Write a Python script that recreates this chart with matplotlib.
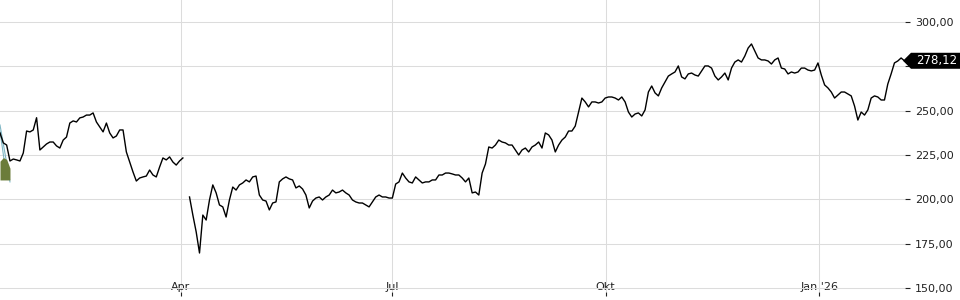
import numpy as np
import pandas as pd
import matplotlib
matplotlib.use("Agg")
import matplotlib.pyplot as plt
from matplotlib.patches import Polygon
from matplotlib.ticker import FuncFormatter

# closing prices, evenly spaced in time (nan = gap in the feed)
price = [
    237.4, 231.8, 230.6, 221.6, 222.7, 222.2, 221.6, 226.1, 238.5, 238.0,
    239.1, 246.0, 227.8, 229.5, 231.2, 232.3, 232.3, 230.1, 228.9, 233.4,
    235.1, 243.0, 244.2, 243.6, 245.9, 246.4, 247.5, 247.5, 248.7, 243.6,
    240.8, 238.0, 243.0, 237.4, 234.6, 235.7, 239.1, 239.1, 226.7, 221.0,
    215.4, 210.3, 212.0, 212.6, 213.1, 216.5, 213.7, 212.6, 218.2, 223.3,
    222.2, 223.9, 221.0, 219.3, 221.6, 223.3, np.nan, 201.3, 191.1, 181.6,
    169.7, 191.1, 188.3, 199.6, 208.1, 203.6, 196.8, 195.7, 190.0, 199.6,
    206.9, 205.2, 208.1, 209.2, 210.9, 209.8, 212.6, 213.1, 202.4, 199.6,
    199.0, 194.0, 197.9, 198.5, 209.8, 211.5, 212.6, 211.5, 210.9, 206.4,
    207.5, 205.8, 202.4, 195.1, 199.0, 200.7, 201.3, 199.6, 201.3, 202.4,
    205.2, 203.6, 204.1, 205.2, 203.6, 202.4, 199.6, 198.5, 197.9, 197.9,
    196.8, 195.7, 198.5, 201.3, 202.4, 201.3, 201.3, 200.7, 200.7, 208.6,
    209.8, 214.8, 212.0, 209.8, 209.2, 212.6, 210.9, 209.2, 209.8, 209.8,
    210.9, 210.9, 213.7, 213.7, 214.8, 214.8, 214.3, 213.7, 213.7, 212.0,
    209.8, 212.0, 203.6, 204.1, 202.4, 214.8, 219.9, 229.5, 228.9, 230.6,
    233.4, 232.3, 231.8, 230.6, 230.6, 227.8, 225.0, 227.8, 228.9, 226.7,
    229.5, 230.6, 232.3, 228.9, 237.4, 236.3, 233.4, 226.7, 230.6, 233.4,
    235.1, 238.5, 238.5, 241.3, 249.2, 257.1, 254.9, 252.1, 254.9, 254.9,
    254.3, 254.9, 257.1, 257.7, 257.7, 257.1, 256.0, 257.7, 254.9, 249.2,
    246.4, 248.1, 248.7, 247.0, 250.4, 260.5, 263.9, 260.0, 258.3, 262.8,
    266.2, 269.5, 270.7, 271.8, 275.2, 269.0, 267.9, 270.7, 271.2, 270.1,
    269.5, 272.4, 275.2, 275.2, 274.0, 269.5, 267.3, 269.0, 271.2, 267.3,
    274.0, 277.4, 278.6, 277.4, 280.8, 285.3, 287.6, 283.6, 279.7, 278.6,
    278.6, 278.0, 276.3, 278.6, 279.7, 274.0, 273.5, 270.7, 271.8, 271.2,
    271.8, 274.0, 274.0, 272.9, 272.4, 272.9, 276.9, 270.1, 264.5, 262.8,
    260.5, 257.1, 258.8, 260.5, 260.5, 259.4, 258.3, 252.6, 244.7, 249.2,
    247.5, 250.4, 257.1, 258.3, 257.7, 256.0, 256.0, 265.0, 270.7, 276.9,
    278.0, 279.7, 278.12,
]
start_date = "2025-01-13"
end_date = "2026-02-06 18:00"

month_ticks = ["2025-04-01", "2025-07-01", "2025-10-01", "2026-01-01"]
month_labels = ["Apr", "Jul", "Okt", "Jan '26"]
price_ticks = [150, 175, 200, 225, 250, 275, 300]
last_price = 278.12

# remnants of another overlay at the very left edge
teal_a = [241.9, 209.8]
teal_b = [238.5, 212.0]
olive_low = [210.9, 210.9, 210.9, 210.9]
olive_high = [221.5, 223.5, 222.5, 217.5]

dates = pd.date_range(start_date, end_date, periods=len(price))

W, H = 960, 300
fig = plt.figure(figsize=(W / 100, H / 100), dpi=100)
ax = fig.add_axes([0, 8 / H, 905 / W, 1 - 8 / H])

grid_c = "#dcdcdc"
txt_c = "#222222"

ax.plot(dates, price, color="black", lw=1.0, zorder=3)
ax.plot(dates[[0, 3]], teal_a, color="#7fb6c4", lw=0.8, zorder=2)
ax.plot(dates[[0, 2]], teal_b, color="#7fb6c4", lw=0.8, zorder=2)
ax.fill_between(dates[:4], olive_low, olive_high, color="#6b7c3a", lw=0, zorder=2)

ax.set_xlim(dates[0], dates[-1] + pd.Timedelta(hours=6))
ax.set_ylim(147.7, 312.4)


def price_fmt(v, pos):
    # the 275 label sits under the price tag in the original
    if abs(v - 275) < 1e-6:
        return ""
    return f"{v:.2f}".replace(".", ",")


ax.set_xticks(pd.to_datetime(month_ticks))
ax.set_xticklabels(month_labels)
ax.set_yticks(price_ticks)
ax.yaxis.set_major_formatter(FuncFormatter(price_fmt))
ax.yaxis.tick_right()

ax.tick_params(axis="x", direction="out", length=3, width=0.8, color=txt_c,
               pad=-10.5, labelsize=8, labelcolor=txt_c)
ax.tick_params(axis="y", direction="out", length=3.5, width=0.8, color=txt_c,
               pad=3.5, labelsize=8, labelcolor=txt_c)

ax.grid(True, color=grid_c, lw=0.75, zorder=0)
ax.set_axisbelow(True)
for s in ax.spines.values():
    s.set_visible(False)

# price tag for the last quote
yc = ax.transData.transform((0, last_price))[1]
tip_x, notch_x, half = 903, 911, 8
tag = Polygon([(tip_x / W, yc / H), (notch_x / W, (yc + half) / H), (1.0, (yc + half) / H),
               (1.0, (yc - half) / H), (notch_x / W, (yc - half) / H)],
              closed=True, transform=fig.transFigure, fc="black", ec="none",
              clip_on=False, zorder=10)
fig.patches.append(tag)
fig.text(916 / W, yc / H, f"{last_price:.2f}".replace(".", ","), color="white",
         fontsize=8.5, va="center", ha="left", zorder=11)

fig.savefig("out.png", dpi=100)
